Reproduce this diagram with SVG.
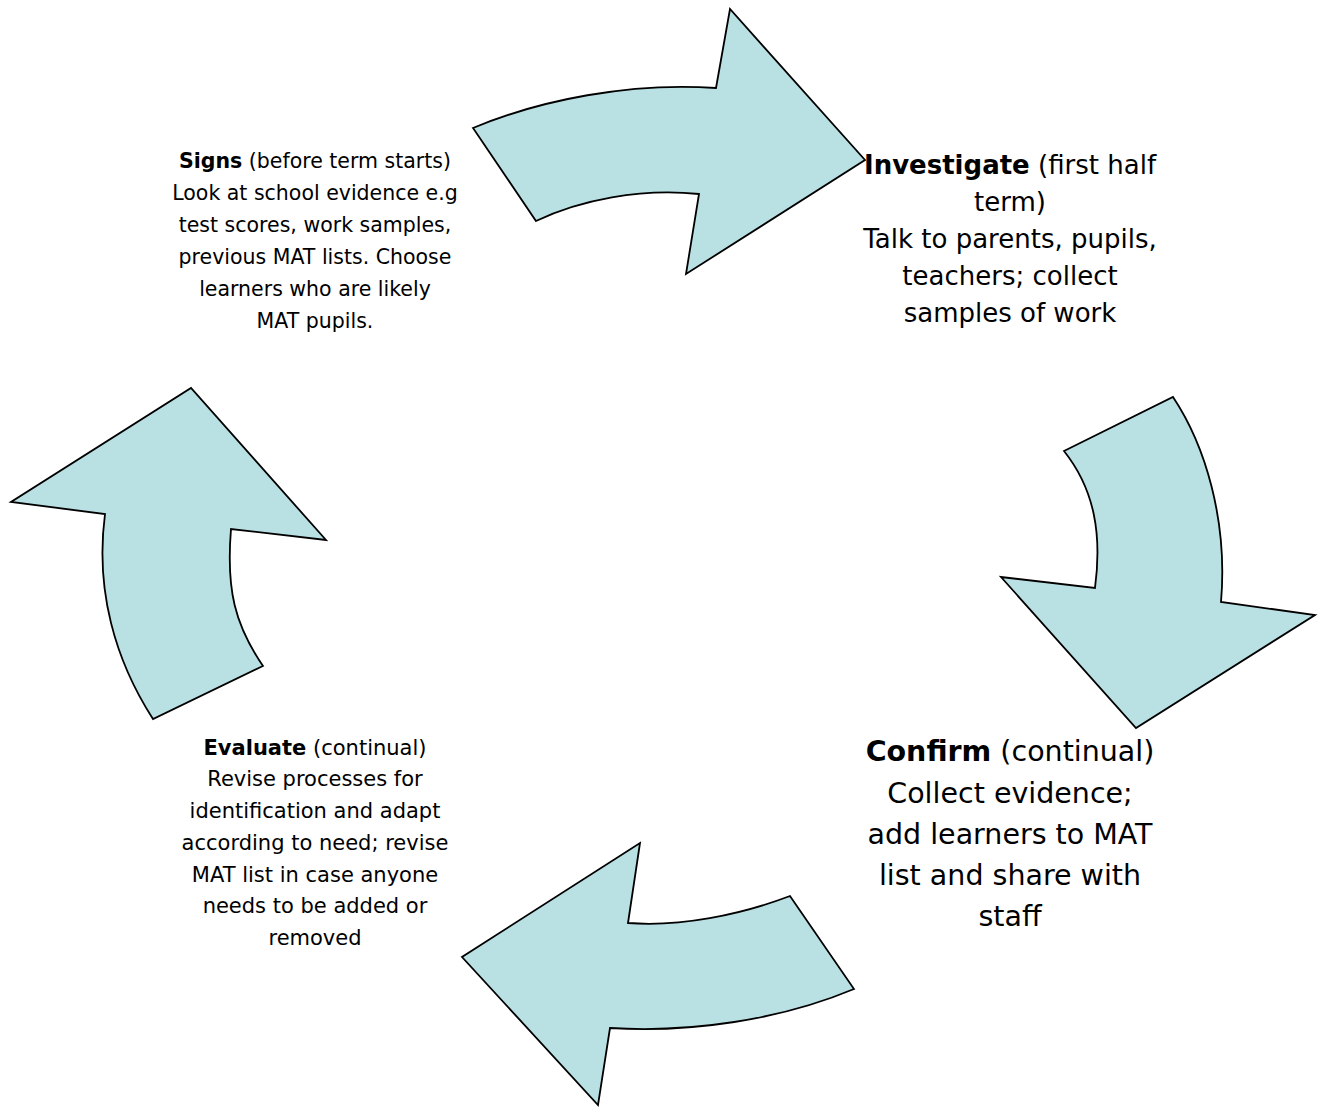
<svg xmlns="http://www.w3.org/2000/svg" width="1319" height="1107" viewBox="0 0 1319 1107">
  <style>
    .arrow { fill: #B9E0E3; stroke: #000; stroke-width: 1.8; stroke-linejoin: miter; }
    .lbl { font-family: "DejaVu Sans", "Liberation Sans", sans-serif; fill: #000; text-anchor: middle; }
    .s { font-size: 20.5px; }
    .e { font-size: 21px; }
    .m { font-size: 26px; }
    .l { font-size: 28.5px; }
    .b { font-weight: bold; }
  </style>
  <rect width="1319" height="1107" fill="#fff"/>

  <!-- curved block arrows forming the cycle -->
  <g id="connectors">
    <path id="arrow-top" class="arrow" d="M473,128 C540,100 630,82 716,88 L730,9 L865,160 L686,274 L699,194 C640,188 580,200 536,221 Z"/>
    <path id="arrow-right" class="arrow" d="M1064,451 L1173,397 C1205,445 1228,520 1221,602 L1315,615 L1136,728 L1001,577 L1095,588 C1102,535 1095,490 1064,451 Z"/>
    <path id="arrow-bottom" class="arrow" d="M790,896 C740,915 680,927 628,923 L640,843 L462,957 L598,1105 L610,1028 C690,1033 780,1020 854,989 Z"/>
    <path id="arrow-left" class="arrow" d="M153,719 C115,660 95,590 105,514 L11,502 L191,388 L326,540 L231,529 C226,590 235,625 263,666 Z"/>
  </g>

  <g id="signs">
    <text class="lbl s" x="315" y="168"><tspan class="b">Signs</tspan> (before term starts)</text>
    <text class="lbl s" x="315" y="200">Look at school evidence e.g</text>
    <text class="lbl s" x="315" y="232">test scores, work samples,</text>
    <text class="lbl s" x="315" y="264">previous MAT lists. Choose</text>
    <text class="lbl s" x="315" y="296">learners who are likely</text>
    <text class="lbl s" x="315" y="328">MAT pupils.</text>
  </g>

  <g id="investigate">
    <text class="lbl m" x="1010" y="174"><tspan class="b">Investigate</tspan> (first half</text>
    <text class="lbl m" x="1010" y="211">term)</text>
    <text class="lbl m" x="1010" y="248">Talk to parents, pupils,</text>
    <text class="lbl m" x="1010" y="285">teachers; collect</text>
    <text class="lbl m" x="1010" y="322">samples of work</text>
  </g>

  <g id="confirm">
    <text class="lbl l" x="1010" y="761"><tspan class="b">Confirm</tspan> (continual)</text>
    <text class="lbl l" x="1010" y="803">Collect evidence;</text>
    <text class="lbl l" x="1010" y="844">add learners to MAT</text>
    <text class="lbl l" x="1010" y="885">list and share with</text>
    <text class="lbl l" x="1010" y="926">staff</text>
  </g>

  <g id="evaluate">
    <text class="lbl e" x="315" y="755"><tspan class="b">Evaluate</tspan> (continual)</text>
    <text class="lbl e" x="315" y="786">Revise processes for</text>
    <text class="lbl e" x="315" y="818">identification and adapt</text>
    <text class="lbl e" x="315" y="850">according to need; revise</text>
    <text class="lbl e" x="315" y="882">MAT list in case anyone</text>
    <text class="lbl e" x="315" y="913">needs to be added or</text>
    <text class="lbl e" x="315" y="945">removed</text>
  </g>
</svg>
